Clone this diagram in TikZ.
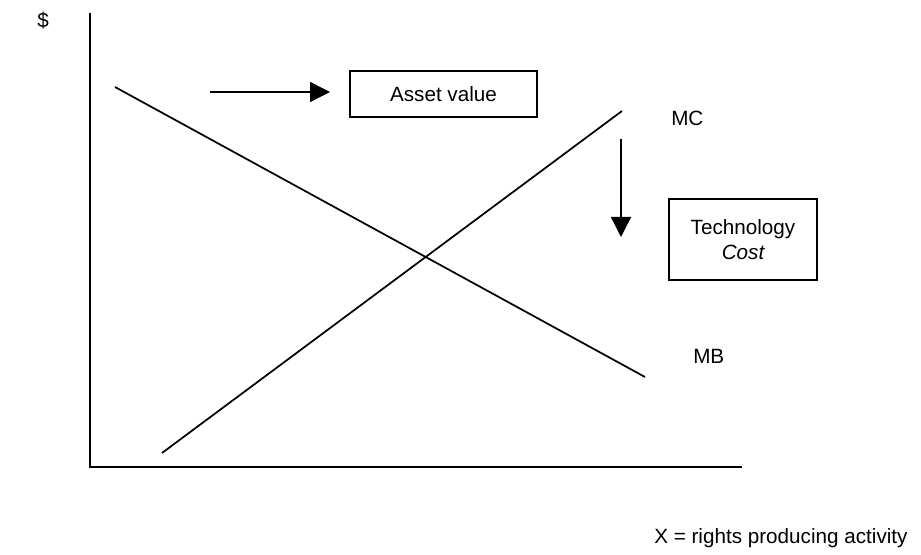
\documentclass[tikz,border=0pt]{standalone}
\usepackage{fontspec}
\setmainfont{Liberation Sans}
\usetikzlibrary{arrows.meta}
\begin{document}
\begin{tikzpicture}[x=0.75pt,y=-0.75pt,
  lbl/.style={font=\fontsize{15.5pt}{18.5pt}\selectfont, inner sep=0pt},
  boxed/.style={draw, line width=1pt, font=\fontsize{15.5pt}{18.5pt}\selectfont, align=center, inner sep=0pt},
  axis/.style={line width=2pt},
  curve/.style={line width=1.3pt},
  arr/.style={line width=1pt, -{Triangle[length=15pt,width=15pt]}}]
\useasboundingbox (0,0) rectangle (921,555);
% axes
\coordinate (ytop) at (90,13);
\coordinate (orig) at (90,467);
\coordinate (xend) at (742,467);
\draw[axis] (ytop) -- (orig) -- (xend);
% curves
\coordinate (mbs) at (115,87);
\coordinate (mbe) at (645,377);
\coordinate (mcs) at (162,453);
\coordinate (mce) at (622,111);
\draw[curve] (mbs) -- (mbe);
\draw[curve] (mcs) -- (mce);
% boxes
\node[boxed, minimum width=187*0.75pt, minimum height=46*0.75pt] (asset) at (443.5,94) {Asset value};
\node[boxed, minimum width=148*0.75pt, minimum height=81*0.75pt] (tech) at (743,239.5) {Technology\\\itshape Cost};
% arrows
\coordinate (a1s) at (210,92);
\coordinate (a1e) at (330,92);
\draw[arr] (a1s) -- (a1e);
\coordinate (a2s) at (621,139);
\coordinate (a2e) at (621,237);
\draw[arr] (a2s) -- (a2e);
% labels
\node[lbl, anchor=west] (dollar) at (37,21) {\$};
\node[lbl, anchor=west] (mc) at (671,118) {MC};
\node[lbl, anchor=west] (mb) at (693,356) {MB};
\node[lbl, anchor=west] (xlab) at (654,538) {X = rights producing activity};
\end{tikzpicture}
\end{document}
